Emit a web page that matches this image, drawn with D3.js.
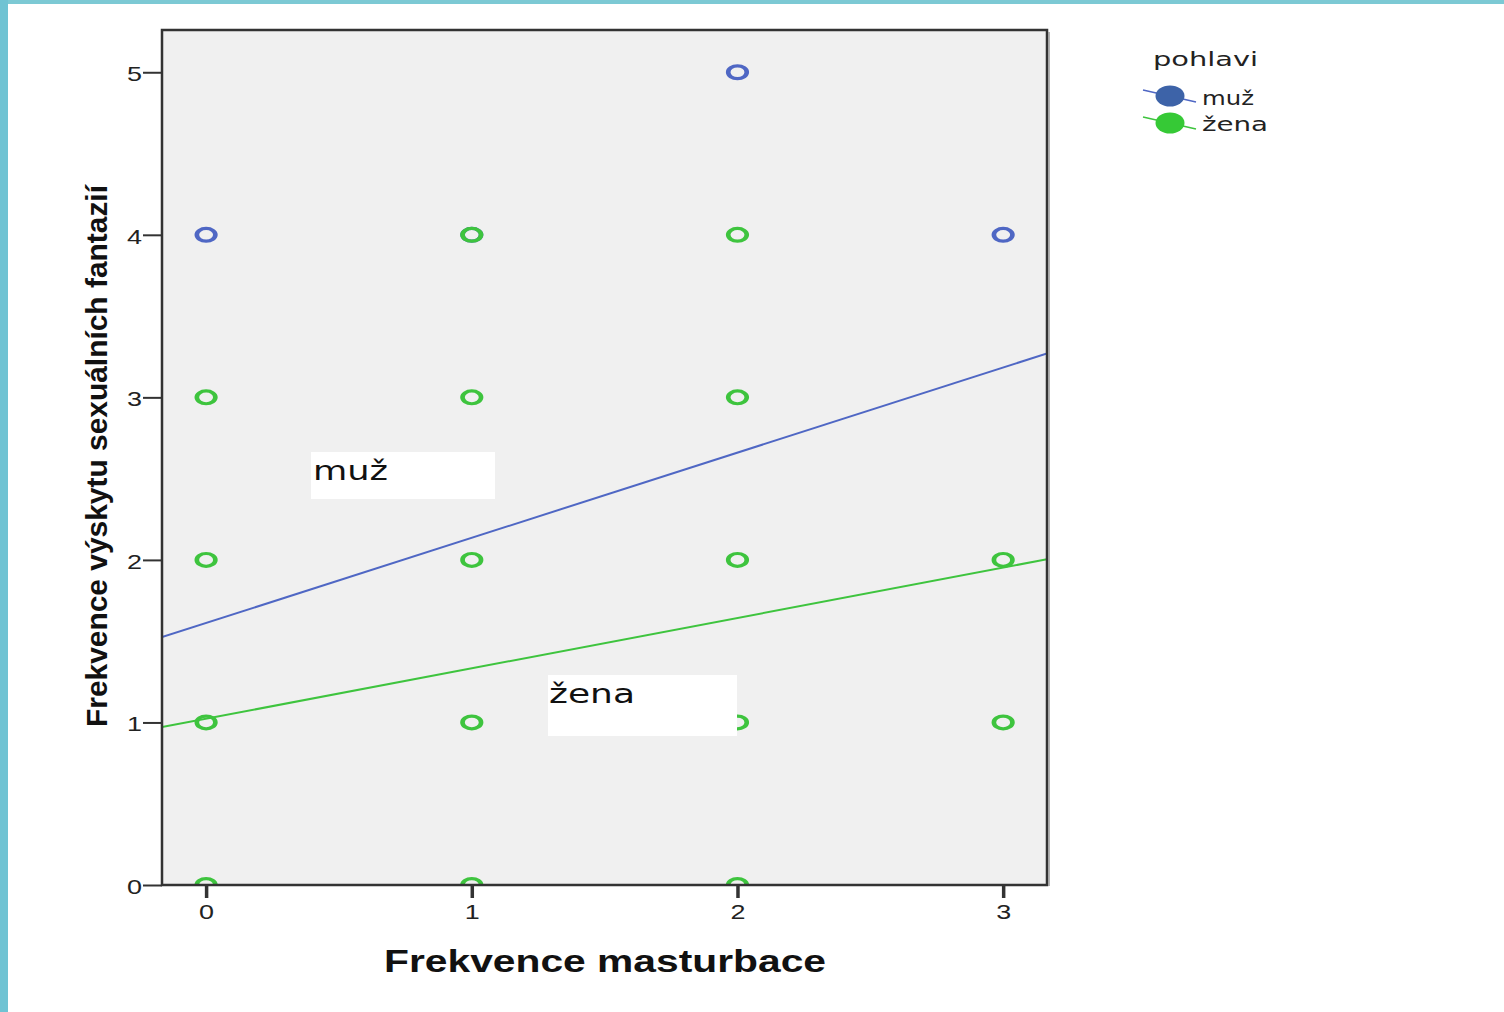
<!DOCTYPE html>
<html><head><meta charset="utf-8">
<script src="https://cdn.jsdelivr.net/npm/d3@7"></script>
<style>
html,body{margin:0;padding:0;background:#fff;}
svg{display:block;}
</style></head>
<body>
<svg id="c" width="1504" height="1012"></svg>
<script>
// ---- data ----
const groups = ["muž", "žena"];
const muzX = [0, 1, 2, 3];
const muzY = [4, 4, 5, 4];
const zenaX = [1, 2, 0, 1, 2, 0, 1, 2, 3, 0, 1, 2, 3, 0, 1, 2];
const zenaY = [4, 4, 3, 3, 3, 2, 2, 2, 2, 1, 1, 1, 1, 0, 0, 0];
// fit lines [intercept, slope]
const muzFit = [1.612, 0.524];
const zenaFit = [1.023, 0.310];
const xTicks = [0, 1, 2, 3];
const yTicks = [0, 1, 2, 3, 4, 5];
const xTitle = "Frekvence masturbace";
const yTitle = "Frekvence výskytu sexuálních fantazií";
const legendTitle = "pohlavi";

// ---- layout ----
const svg = d3.select("#c");
const W = 1504, H = 1012;
const P = {l: 162, t: 30, r: 1047, b: 885};
const blue = "#4f67c4", green = "#3ec43e";
const blueFill = "#3d63a8", greenFill = "#36c936";

// teal border
svg.append("rect").attr("x", 0).attr("y", 0).attr("width", W).attr("height", 4).attr("fill", "#7cc9d4");
svg.append("rect").attr("x", 0).attr("y", 0).attr("width", 8).attr("height", H).attr("fill", "#6fc3d3");

const x = d3.scaleLinear().domain([-0.166, 3.165]).range([P.l, P.r]);
const y = d3.scaleLinear().domain([0, 5.26]).range([P.b, P.t]);

// plot background
svg.append("rect").attr("x", P.l).attr("y", P.t).attr("width", P.r - P.l).attr("height", P.b - P.t)
  .attr("fill", "#f0f0f0");

svg.append("clipPath").attr("id", "clip").append("rect")
  .attr("x", P.l).attr("y", P.t).attr("width", P.r - P.l).attr("height", P.b - P.t);

const plot = svg.append("g").attr("clip-path", "url(#clip)");

function drawPoints(xs, ys, col) {
  plot.append("g").selectAll("g").data(xs.map((v, i) => [v, ys[i]])).join("g")
    .attr("transform", d => `translate(${x(d[0])},${y(d[1])}) scale(1.45,1)`)
    .append("circle").attr("r", 6.4).attr("fill", "none").attr("stroke", col).attr("stroke-width", 3.2);
}
drawPoints(muzX, muzY, blue);
drawPoints(zenaX, zenaY, green);

function drawFit(fit, col) {
  const [a, b] = fit;
  const d0 = x.domain()[0], d1 = x.domain()[1];
  plot.append("line")
    .attr("x1", x(d0)).attr("y1", y(a + b * d0))
    .attr("x2", x(d1)).attr("y2", y(a + b * d1))
    .attr("stroke", col).attr("stroke-width", 2);
}
drawFit(muzFit, blue);
drawFit(zenaFit, green);

// fit labels with white boxes
function fitLabel(txt, bx, by, bw, bh, tx, ty, tl) {
  svg.append("rect").attr("x", bx).attr("y", by).attr("width", bw).attr("height", bh).attr("fill", "#fff");
  svg.append("text").attr("x", tx).attr("y", ty).text(txt)
    .attr("font-family", "DejaVu Sans").attr("font-size", 26).attr("fill", "#111")
    .attr("textLength", tl).attr("lengthAdjust", "spacingAndGlyphs");
}
fitLabel(groups[0], 311, 452, 184, 47, 313, 480, 75);
fitLabel(groups[1], 548, 675, 189, 61, 549, 703, 86);

// frame
svg.append("rect").attr("x", P.l).attr("y", P.t).attr("width", P.r - P.l).attr("height", P.b - P.t)
  .attr("fill", "none").attr("stroke", "#333").attr("stroke-width", 2.5);
svg.append("line").attr("x1", P.r + 2).attr("x2", P.r + 2).attr("y1", P.t + 2).attr("y2", P.b + 1)
  .attr("stroke", "#999").attr("stroke-width", 1.5);

// axes
const yAxis = svg.append("g").attr("transform", `translate(${P.l},0)`)
  .call(d3.axisLeft(y).tickValues(yTicks).tickSize(19).tickPadding(1).tickFormat(d3.format("d")));
yAxis.select(".domain").remove();
yAxis.selectAll(".tick line").attr("stroke", "#333").attr("stroke-width", 2);
yAxis.selectAll(".tick text").attr("font-family", "Liberation Sans").attr("font-size", 21).attr("fill", "#222")
  .attr("dy", "0.4em").attr("textLength", 15).attr("lengthAdjust", "spacingAndGlyphs");

const xAxis = svg.append("g").attr("transform", `translate(0,${P.b})`)
  .call(d3.axisBottom(x).tickValues(xTicks).tickSize(13).tickPadding(6).tickFormat(d3.format("d")));
xAxis.select(".domain").remove();
xAxis.selectAll(".tick line").attr("stroke", "#333").attr("stroke-width", 3.5);
xAxis.selectAll(".tick text").attr("font-family", "Liberation Sans").attr("font-size", 21).attr("fill", "#222")
  .attr("textLength", 15).attr("lengthAdjust", "spacingAndGlyphs");

// titles
svg.append("text").attr("x", 384).attr("y", 972).text(xTitle)
  .attr("font-family", "Liberation Sans").attr("font-weight", "bold").attr("font-size", 32).attr("fill", "#111")
  .attr("textLength", 442).attr("lengthAdjust", "spacingAndGlyphs");
svg.append("text").attr("transform", "translate(107,727) rotate(-90)").text(yTitle)
  .attr("font-family", "Liberation Sans").attr("font-weight", "bold").attr("font-size", 29).attr("fill", "#111")
  .attr("textLength", 542).attr("lengthAdjust", "spacingAndGlyphs");

// legend
svg.append("text").attr("x", 1153).attr("y", 66).text(legendTitle)
  .attr("font-family", "DejaVu Sans").attr("font-size", 20).attr("fill", "#222")
  .attr("textLength", 105).attr("lengthAdjust", "spacingAndGlyphs");
const leg = [
  {name: groups[0], line: blue, fill: blueFill, cy: 96, ty: 105, tl: 52},
  {name: groups[1], line: green, fill: greenFill, cy: 123, ty: 131, tl: 66}
];
leg.forEach(d => {
  svg.append("line").attr("x1", 1143).attr("y1", d.cy - 6).attr("x2", 1196).attr("y2", d.cy + 6)
    .attr("stroke", d.line).attr("stroke-width", 1.5);
  svg.append("ellipse").attr("cx", 1170).attr("cy", d.cy).attr("rx", 14.5).attr("ry", 10.5)
    .attr("fill", d.fill);
  svg.append("text").attr("x", 1202).attr("y", d.ty).text(d.name)
    .attr("font-family", "DejaVu Sans").attr("font-size", 20).attr("fill", "#222")
    .attr("textLength", d.tl).attr("lengthAdjust", "spacingAndGlyphs");
});
</script>
</body></html>
